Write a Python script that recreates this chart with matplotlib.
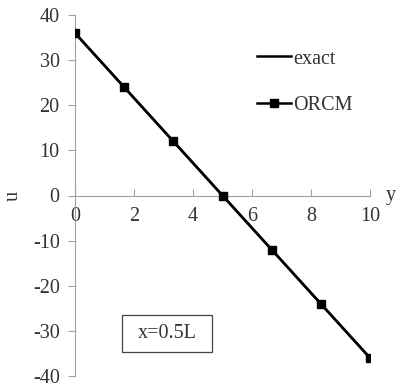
import matplotlib.pyplot as plt
from matplotlib.patches import Rectangle

plt.rcParams.update({'font.family': 'Liberation Serif', 'font.size': 14.5,
                     'axes.unicode_minus': False})

y_exact = [0, 10]
u_exact = [36, -36]
y_orcm = [0, 1.667, 3.333, 5, 6.667, 8.333, 10]
u_orcm = [36, 24, 12, 0, -12, -24, -36]
x_ticks = [0, 2, 4, 6, 8, 10]
u_ticks = [-40, -30, -20, -10, 0, 10, 20, 30, 40]

fig = plt.figure(figsize=(3.98, 3.88), dpi=100)
ax = fig.add_axes([75/398, 1-376/388, (370-75)/398, (376-15)/388])

ax.plot(y_exact, u_exact, color='black', lw=1.8, label='exact', zorder=3)
ax.plot(y_orcm, u_orcm, color='black', lw=1.8, marker='s', ms=6, label='ORCM', zorder=4)

ax.set_xlim(0, 10)
ax.set_ylim(-40, 40)
ax.set_xticks(x_ticks)
ax.set_yticks(u_ticks)

gray = '#a0a0a0'
for s in ['top', 'right']:
    ax.spines[s].set_visible(False)
ax.spines['bottom'].set_position(('data', 0))
ax.spines['bottom'].set_color(gray)
ax.spines['left'].set_color(gray)
ax.tick_params(axis='y', direction='out', length=5, color=gray, pad=6)
ax.tick_params(axis='x', direction='in', length=5, color=gray, pad=8)
for lbl in ax.get_yticklabels() + ax.get_xticklabels():
    lbl.set_color('#333333')

ax.text(-0.21, 0.5, 'u', transform=ax.transAxes, rotation=90,
        ha='center', va='center', color='#333333')
ax.text(1.07, 0.5, 'y', transform=ax.transAxes,
        ha='center', va='center', color='#333333')

leg = ax.legend(loc='upper left', bbox_to_anchor=(0.59, 0.927), frameon=False,
                handlelength=1.7, handletextpad=0.1, labelspacing=1.35,
                fontsize=14.5, borderaxespad=0)
for t in leg.get_texts():
    t.set_color('#333333')

bx0, bx1 = (122-75)/295, (212-75)/295
by0, by1 = 1-(352-15)/361, 1-(315-15)/361
ax.add_patch(Rectangle((bx0, by0), bx1-bx0, by1-by0, transform=ax.transAxes,
                       fc='white', ec='#444444', lw=0.9, zorder=5))
ax.text((bx0+bx1)/2, (by0+by1)/2, 'x=0.5L', transform=ax.transAxes,
        ha='center', va='center', color='#333333', zorder=6)

fig.savefig('out.png', dpi=100)
